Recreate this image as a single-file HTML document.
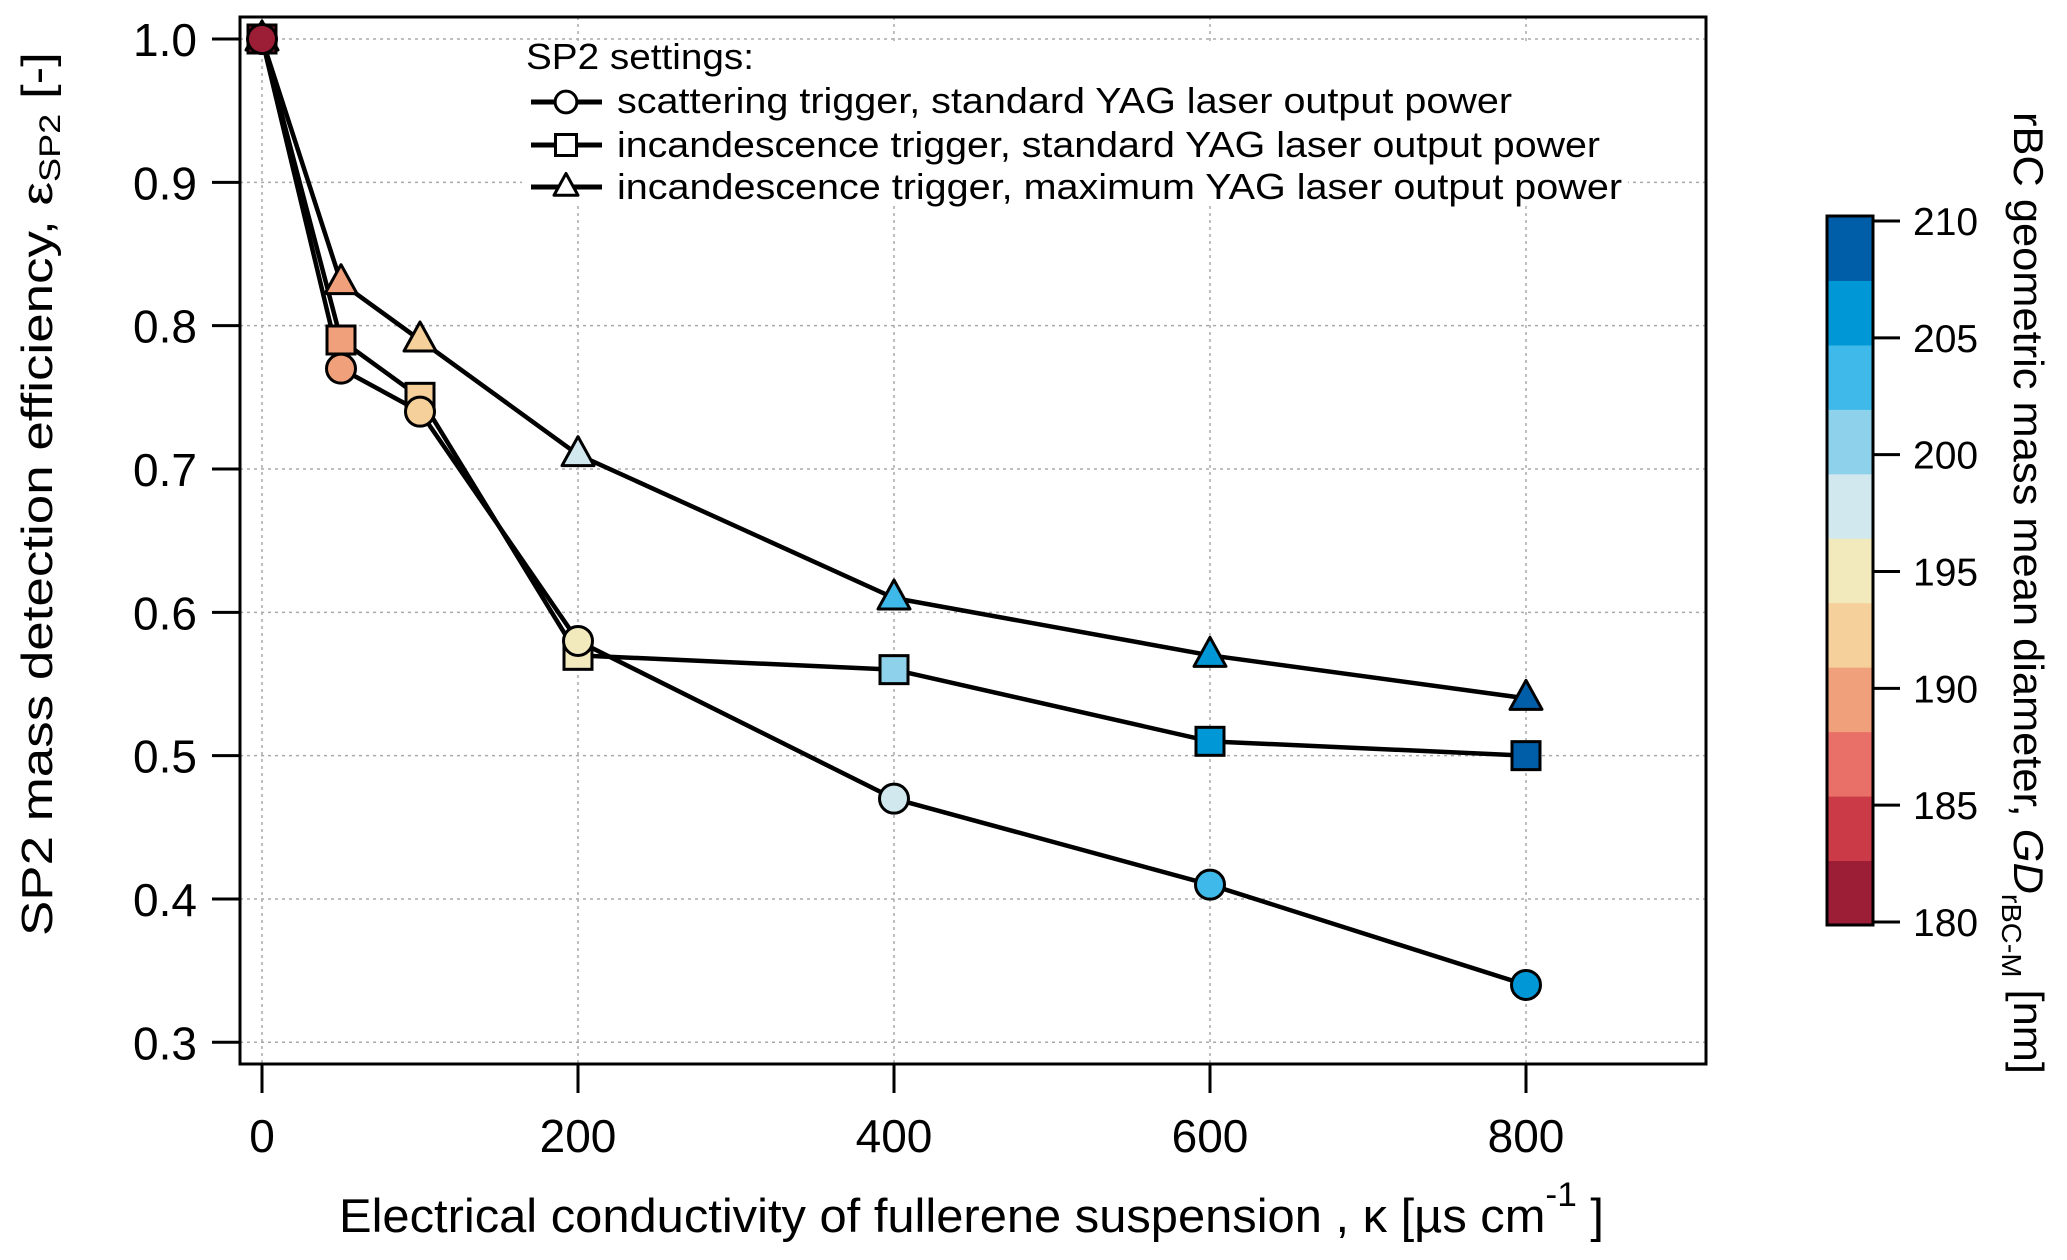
<!DOCTYPE html>
<html><head><meta charset="utf-8">
<style>
html,body{margin:0;padding:0;background:#fff;}
svg{display:block;font-family:"Liberation Sans",sans-serif;}
</style></head>
<body>
<svg id="chart" width="2067" height="1260" viewBox="0 0 2067 1260" xmlns="http://www.w3.org/2000/svg"></svg>
<script>
// ---- data ----
const xValues = [0, 50, 100, 200, 400, 600, 800];
const scatterStd = [1.0, 0.77, 0.74, 0.58, 0.47, 0.41, 0.34];
const incandStd = [1.0, 0.79, 0.75, 0.57, 0.56, 0.51, 0.50];
const incandMax = [1.0, 0.83, 0.79, 0.71, 0.61, 0.57, 0.54];
const diamScatter = [181, 189, 192.5, 195, 198, 203, 206];
const diamIncStd = [181, 189, 192.5, 195, 200.5, 206, 209];
const diamIncMax = [181, 189, 192.5, 198, 203, 206, 209];
const xTicks = [0, 200, 400, 600, 800];
const yTicks = [0.3, 0.4, 0.5, 0.6, 0.7, 0.8, 0.9, 1.0];
const yTickLabels = ["0.3", "0.4", "0.5", "0.6", "0.7", "0.8", "0.9", "1.0"];
const cbTicks = [180, 185, 190, 195, 200, 205, 210];
const cbColors = ["#9B1D36", "#CB3A47", "#E97068", "#F0A07A", "#F6D09A", "#F2EABD", "#D1E8EE", "#8DD1EA", "#3EB9EA", "#0097D7", "#005DA8"];

const NS = "http://www.w3.org/2000/svg";
const svg = document.getElementById("chart");
function mk(tag, attrs, parent) {
  const e = document.createElementNS(NS, tag);
  for (const k in attrs) e.setAttribute(k, attrs[k]);
  (parent || svg).appendChild(e);
  return e;
}
const PL = 240, PR = 1706, PT = 17, PB = 1064;
const X = v => 262 + (v - 0) * (1526 - 262) / 800;
const Y = v => 39 + (1.0 - v) * 1433.3;
const CBT = 216, CBB = 925;
const CY = d => 922 - (d - 180) * (922 - 221) / 30;
function colorOf(d) {
  let i = Math.floor((d - 180) / (30 / cbColors.length));
  i = Math.max(0, Math.min(cbColors.length - 1, i));
  return cbColors[i];
}

const grid = mk("g", {});


xTicks.forEach(t => {
  const l = mk("line", {x1: X(t), x2: X(t), y1: PT, y2: PB, stroke: "#aaa", "stroke-width": 1.5, "stroke-dasharray": "3,4"}, grid);
  
  
});
yTicks.forEach(t => {
  const l = mk("line", {x1: PL, x2: PR, y1: Y(t), y2: Y(t), stroke: "#aaa", "stroke-width": 1.5, "stroke-dasharray": "3,4"}, grid);
  
  
});

const lg = mk("g", {});


mk("rect", {x: 522, y: 44, width: 1106, height: 160, fill: "#fff"}, lg);
const lt = mk("text", {x: 526, y: 69, "font-size": 36, textLength: 228, lengthAdjust: "spacingAndGlyphs"}, lg);
lt.textContent = "SP2 settings:";


const legRows = [
  {y: 102, shape: "circle", text: "scattering trigger, standard YAG laser output power", len: 895, base: 113},
  {y: 145, shape: "square", text: "incandescence trigger, standard YAG laser output power", len: 983, base: 157},
  {y: 187, shape: "triangle", text: "incandescence trigger, maximum YAG laser output power", len: 1005, base: 199}
];

function marker(shape, cx, cy, fill, parent, small) {
  const s = small ? 0.75 : 1;
  let e;
  if (shape === "circle") e = mk("circle", {cx, cy, r: 14.5 * s, fill, stroke: "#000", "stroke-width": 3}, parent);
  else if (shape === "square") e = mk("rect", {x: cx - 14 * s, y: cy - 14 * s, width: 28 * s, height: 28 * s, fill, stroke: "#000", "stroke-width": 3}, parent);
  else e = mk("polygon", {points: `${cx},${cy - 18 * s} ${cx + 16 * s},${cy + 11 * s} ${cx - 16 * s},${cy + 11 * s}`, fill, stroke: "#000", "stroke-width": 3, "stroke-linejoin": "round"}, parent);
  return e;
}
legRows.forEach(r => {
  const g = mk("g", {}, lg);
  
  
  mk("line", {x1: 531, x2: 602, y1: r.y, y2: r.y, stroke: "#000", "stroke-width": 5}, g);
  marker(r.shape, 566, r.y, "#fff", g, true);
  const t = mk("text", {x: 617, y: r.base, "font-size": 36, textLength: r.len, lengthAdjust: "spacingAndGlyphs"}, g);
  t.textContent = r.text;
});

const series = [
  {name: "series-incandescence-max", vals: incandMax, diam: diamIncMax, shape: "triangle"},
  {name: "series-incandescence-standard", vals: incandStd, diam: diamIncStd, shape: "square"},
  {name: "series-scattering-standard", vals: scatterStd, diam: diamScatter, shape: "circle"}
];
series.forEach(s => {
  const g = mk("g", {});
  
  
  const pts = xValues.map((x, i) => X(x) + "," + Y(s.vals[i])).join(" ");
  const pl = mk("polyline", {points: pts, fill: "none", stroke: "#000", "stroke-width": 4.5, "stroke-linejoin": "round"}, g);
  
  
});
series.forEach(s => {
  const g = mk("g", {});
  
  
  xValues.forEach((x, i) => {
    const m = marker(s.shape, X(x), Y(s.vals[i]), colorOf(s.diam[i]), g, false);
    
    
  });
});

const fr = mk("rect", {x: PL, y: PT, width: PR - PL, height: PB - PT, fill: "none", stroke: "#000", "stroke-width": 3});



const xa = mk("g", {});


xTicks.forEach(t => {
  mk("line", {x1: X(t), x2: X(t), y1: PB, y2: 1093, stroke: "#000", "stroke-width": 3}, xa);
  const tx = mk("text", {x: X(t), y: 1152, "font-size": 46, "text-anchor": "middle"}, xa);
  tx.textContent = String(t);
  
  
});
const xt = mk("text", {x: 339, y: 1232, "font-size": 47, textLength: 1265, lengthAdjust: "spacingAndGlyphs"});


xt.innerHTML = 'Electrical conductivity of fullerene suspension , κ  [µs cm<tspan dy="-26" font-size="34">-1</tspan><tspan dy="26"> ]</tspan>';

const ya = mk("g", {});


yTicks.forEach((t, i) => {
  mk("line", {x1: 212, x2: PL, y1: Y(t), y2: Y(t), stroke: "#000", "stroke-width": 3}, ya);
  const tx = mk("text", {x: 197, y: Y(t) + 17, "font-size": 46, "text-anchor": "end"}, ya);
  tx.textContent = yTickLabels[i];
  
  
});
const yt = mk("text", {x: 0, y: 0, "font-size": 44, transform: "translate(52,936) rotate(-90)", textLength: 884, lengthAdjust: "spacingAndGlyphs"});


yt.innerHTML = 'SP2 mass detection efficiency, ε<tspan font-size="30" dy="8">SP2</tspan><tspan dy="-8"> [-]</tspan>';

const cb = mk("g", {});


const bh = (CBB - CBT) / cbColors.length;
cbColors.forEach((c, i) => {
  const r = mk("rect", {x: 1827, y: CBB - (i + 1) * bh, width: 46, height: bh + 0.5, fill: c}, cb);
  
  
});
mk("rect", {x: 1827, y: CBT, width: 46, height: CBB - CBT, fill: "none", stroke: "#000", "stroke-width": 3}, cb);
cbTicks.forEach(t => {
  mk("line", {x1: 1873, x2: 1900, y1: CY(t), y2: CY(t), stroke: "#000", "stroke-width": 3}, cb);
  const tx = mk("text", {x: 1913, y: CY(t) + 14, "font-size": 39}, cb);
  tx.textContent = String(t);
  
  
});
const ct = mk("text", {x: 0, y: 0, "font-size": 42, transform: "translate(2014,112) rotate(90)", textLength: 962, lengthAdjust: "spacingAndGlyphs"});


ct.innerHTML = 'rBC geometric mass mean diameter, <tspan font-style="italic">GD</tspan><tspan font-size="28" dy="12">rBC-M</tspan><tspan dy="-12"> [nm]</tspan>';
</script>
</body></html>
